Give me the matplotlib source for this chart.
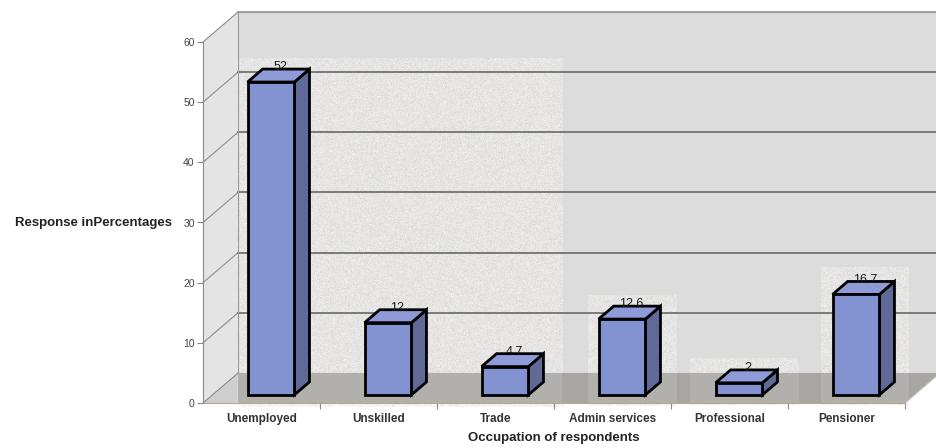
import numpy as np
import matplotlib
matplotlib.use("Agg")
import matplotlib.pyplot as plt
from matplotlib.patches import Polygon

plt.rcParams['font.family'] = ['Liberation Sans', 'DejaVu Sans']

# Data
categories = ["Unemployed", "Unskilled", "Trade", "Admin services", "Professional", "Pensioner"]
percentages = [52, 12, 4.7, 12.6, 2, 16.7]
value_labels = ["52", "12", "4.7", "12.6", "2", "16.7"]
y_ticks = [0, 10, 20, 30, 40, 50, 60]

# 3-D look parameters (data units)
DX, DY = 0.30, 5.0        # full depth shift of the back wall
F_FRONT, F_BACK = 0.27, 0.70  # bar depth position (fraction of depth)
BAR_W = 0.40

FRONT = "#8392d0"
SIDE = "#5f6a98"
TOP = "#8f9bd8"
WALL = "#dcdcdc"
SIDEWALL = "#e4e4e4"
FLOOR = "#a8a6a2"
GRID = "#5e5e5e"

fig = plt.figure(figsize=(9.37, 4.48), dpi=100)
fig.patch.set_facecolor("white")
ax = fig.add_axes([203 / 937, 45 / 448, 702 / 937, 361 / 448])
ax.set_xlim(-0.5, 5.5)
ax.set_ylim(0, 60)
ax.patch.set_visible(False)

n = len(categories)
x = np.arange(n)
xl, xr = -0.5, n - 0.5
ymax = y_ticks[-1]

# Back wall, side wall and floor
ax.add_patch(Polygon([(xl + DX, DY), (xr + DX + 0.1, DY), (xr + DX + 0.1, ymax + DY), (xl + DX, ymax + DY)],
                     closed=True, facecolor=WALL, edgecolor="none", zorder=0, clip_on=False))
ax.add_patch(Polygon([(xl, 0), (xl, ymax), (xl + DX, ymax + DY), (xl + DX, DY)],
                     closed=True, facecolor=SIDEWALL, edgecolor="none", zorder=0, clip_on=False))
ax.add_patch(Polygon([(xl, 0), (xr, 0), (xr + DX, DY), (xl + DX, DY)],
                     closed=True, facecolor=FLOOR, edgecolor="none", zorder=1, clip_on=False))
# light triangle of floor under the side wall
ax.add_patch(Polygon([(xl, 0), (xl + DX, DY), (xl + DX, 0)],
                     closed=True, facecolor="#cfcfcf", edgecolor="none", zorder=1, clip_on=False))

# Lighter grainy patches (scanned paper look), behind the floor
rng = np.random.default_rng(7)
patches_ext = [(-0.21, 2.57, -0.6, 57.3), (2.79, 3.55, -0.5, 17.9),
               (3.66, 4.59, -0.3, 7.5), (4.78, 5.53, -0.4, 22.4)]
for (x0, x1, y0, y1) in patches_ext:
    h = max(int((y1 - y0) * 6), 10)
    w = max(int((x1 - x0) * 117), 10)
    g = np.clip(0.935 + rng.normal(0, 0.035, (h, w)), 0, 1)
    img = np.dstack([g, g * 0.995, g * 0.985])
    ax.imshow(img, extent=(x0, x1, y0, y1), aspect="auto", alpha=0.55,
              zorder=0.5, interpolation="nearest", clip_on=False)
    # a faint lighter veil over the floor inside the patch
    ax.add_patch(Polygon([(x0, max(y0, 0)), (x1, max(y0, 0)), (x1, DY), (x0, DY)], closed=True,
                         facecolor="white", alpha=0.12, edgecolor="none", zorder=1.2, clip_on=False))
ax.set_xlim(-0.5, 5.5)
ax.set_ylim(0, 60)

# Gridlines on side and back walls
for t in y_ticks:
    ax.plot([xl, xl + DX], [t, t + DY], color="#8c8c8c", lw=0.8, zorder=2, clip_on=False)
    if t > 0:
        col = GRID if t < ymax else "#8a8a8a"
        ax.plot([xl + DX, xr + DX + 0.1], [t + DY, t + DY], color=col, lw=1.1, zorder=2, clip_on=False)
ax.plot([xl + DX, xl + DX], [DY, ymax + DY], color="#9a9a9a", lw=0.8, zorder=2, clip_on=False)
ax.plot([xr, xr + DX], [0, DY], color="#bdbdbd", lw=0.8, zorder=2, clip_on=False)

# Bars: front faces through ax.bar, depth faces from the same values
x_front = x + F_FRONT * DX
base = F_FRONT * DY
ddx = (F_BACK - F_FRONT) * DX
ddy = (F_BACK - F_FRONT) * DY
ax.bar(x_front, percentages, width=BAR_W, bottom=base, color=FRONT,
       edgecolor="black", linewidth=2.0, zorder=4, clip_on=False)
for xc, v in zip(x_front, percentages):
    left, right = xc - BAR_W / 2, xc + BAR_W / 2
    top = base + v
    ax.add_patch(Polygon([(right, base), (right, top), (right + ddx, top + ddy), (right + ddx, base + ddy)],
                         closed=True, facecolor=SIDE, edgecolor="black", linewidth=2.0,
                         joinstyle="miter", zorder=3.9, clip_on=False))
    ax.add_patch(Polygon([(left, top), (right, top), (right + ddx, top + ddy), (left + ddx, top + ddy)],
                         closed=True, facecolor=TOP, edgecolor="black", linewidth=2.0,
                         joinstyle="miter", zorder=3.9, clip_on=False))

# Value labels
for xc, v, lab in zip(x, percentages, value_labels):
    ax.text(xc + 0.16, v + 3.8, lab, ha="center", va="center", fontsize=9,
            color="#1a1a1a", zorder=6)

# Axes styling
for s in ["top", "right"]:
    ax.spines[s].set_visible(False)
ax.spines["left"].set_color("#8a8a8a")
ax.spines["bottom"].set_color("#b8a88a")
ax.spines["left"].set_zorder(2)
ax.set_yticks(y_ticks)
ax.tick_params(axis="y", length=4, width=0.8, color="#8a8a8a", labelsize=7.5,
               labelcolor="#444444", pad=2)
ax.set_xticks(np.arange(n) + 0.5)
ax.set_xticklabels([])
ax.tick_params(axis="x", which="major", length=4, width=0.8, color="#8a8a8a")
ax.set_xticks(x, minor=True)
ax.set_xticklabels(categories, minor=True, fontsize=8.5, fontweight="bold", color="#333333")
ax.tick_params(axis="x", which="minor", length=0, pad=7)

ax.set_xlabel("Occupation of respondents", fontsize=9.5, fontweight="bold", color="#222222", labelpad=5)
ax.set_ylabel("Response inPercentages", fontsize=9.5, fontweight="bold", color="#222222",
              rotation=0, ha="right", va="center")
ax.yaxis.set_label_coords(-0.044, 0.5)

fig.savefig("out.png", dpi=100, facecolor="white")
